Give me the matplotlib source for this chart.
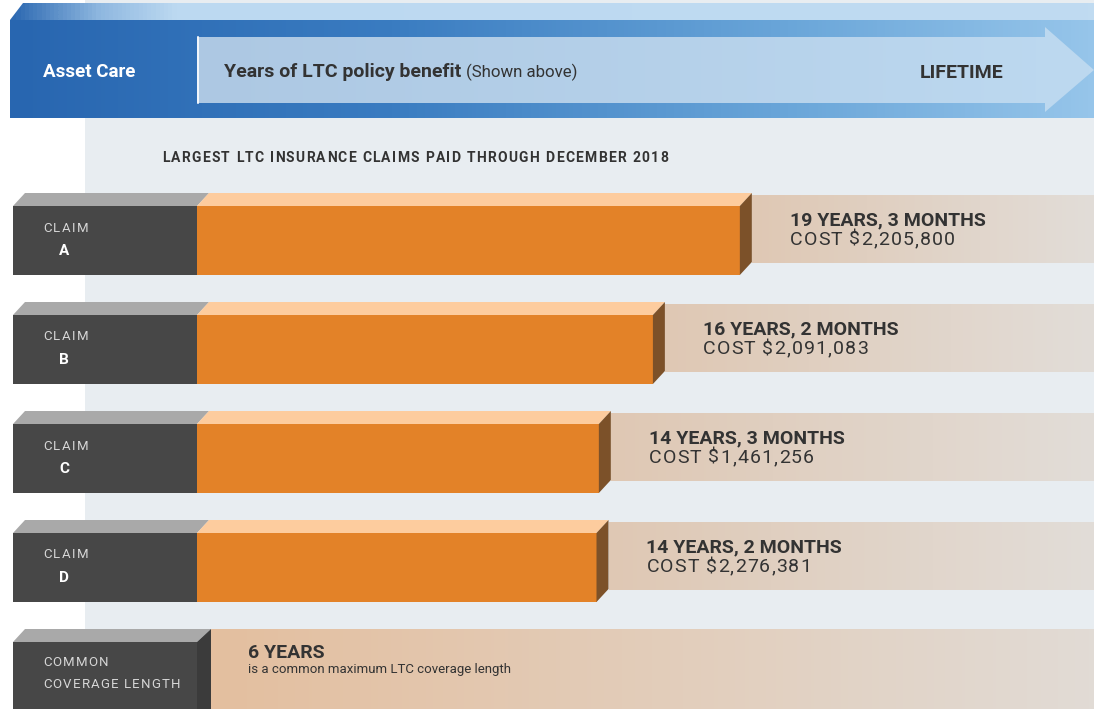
import matplotlib
matplotlib.use('Agg')
import matplotlib.pyplot as plt
import numpy as np
from matplotlib.patches import Polygon, Rectangle
from matplotlib.colors import LinearSegmentedColormap

claims = ['A', 'B', 'C', 'D']
claim_years = [19, 16, 14, 14]
claim_months = [3, 2, 3, 2]
claim_costs = ['$2,205,800', '$2,091,083', '$1,461,256', '$2,276,381']
common_years = 6

title = 'LARGEST LTC INSURANCE CLAIMS PAID THROUGH DECEMBER 2018'

plt.rcParams['font.family'] = ['Roboto', 'DejaVu Sans']

W, H = 1094, 709
fig = plt.figure(figsize=(W / 100, H / 100), dpi=100)
ax = fig.add_axes([0, 0, 1, 1])
ax.set_axis_off()
ax.set_xlim(0, W)
ax.set_ylim(H, 0)
renderer = fig.canvas.get_renderer()

DARK = '#333333'
LABEL = '#d6d6d6'


def hgrad(verts, stops, x0, x1, y0, y1, z):
    # horizontal gradient clipped to a polygon
    cmap = LinearSegmentedColormap.from_list('g', stops)
    img = np.linspace(0, 1, 256).reshape(1, -1)
    im = ax.imshow(img, cmap=cmap, extent=(x0, x1, y1, y0), aspect='auto',
                   zorder=z, interpolation='bilinear')
    p = Polygon(verts, closed=True, facecolor='none', edgecolor='none', zorder=z)
    ax.add_patch(p)
    im.set_clip_path(p)


def poly(verts, color, z):
    ax.add_patch(Polygon(verts, closed=True, facecolor=color, edgecolor='none', zorder=z))


def spaced(x, y, s, sp, **kw):
    # letter-spaced text, one glyph at a time (1 data unit == 1 pixel here)
    for ch in s:
        if ch == ' ':
            x += kw.get('fontsize', 10) * 100 / 72 * 0.25 + sp
            continue
        t = ax.text(x, y, ch, ha='left', va='center', zorder=5, **kw)
        x += t.get_window_extent(renderer=renderer).width + sp
    return x


# background panel
ax.add_patch(Rectangle((85, 0), W - 85, H, facecolor='#e8edf1', edgecolor='none', zorder=0))

# ---- banner ----
hgrad([(10, 20), (23, 3), (W, 3), (W, 20)],
      [(0, '#2e6ab2'), (0.08, '#8fb8e0'), (0.15, '#bcd9f1'), (1, '#c0dbf1')],
      10, W, 3, 20, 2)
hgrad([(10, 20), (W, 20), (W, 118), (10, 118)],
      [(0, '#2866b0'), (0.35, '#3a7cc1'), (0.72, '#6aa6d9'), (1, '#96c5ea')],
      10, W, 20, 118, 2)
hgrad([(197, 37), (1045, 37), (1045, 27), (1094, 70), (1045, 112), (1045, 103), (197, 103)],
      [(0, '#adc8e3'), (1, '#bdd9f0')], 197, 1094, 27, 112, 3)
ax.plot([197.5, 197.5], [37, 103], color='white', lw=1.2, zorder=4)

ax.text(43, 72, 'Asset Care', color='white', fontsize=13.5, fontweight='bold',
        va='center', ha='left', zorder=5)
t1 = ax.text(224, 72, 'Years of LTC policy benefit', color=DARK, fontsize=14,
             fontweight='bold', va='center', ha='left', zorder=5)
bb = t1.get_window_extent(renderer=renderer)
ax.text(bb.x1 + 5, 72, '(Shown above)', color=DARK, fontsize=12.2, va='center',
        ha='left', zorder=5)
ax.text(920, 73, 'LIFETIME', color=DARK, fontsize=14, fontweight='bold',
        va='center', ha='left', zorder=5)

spaced(162, 158, title, 1.3, color=DARK, fontsize=10, fontweight='bold')

# ---- claim rows ----
px_per_year = 28.2
row0, pitch, fh = 206, 109, 69
dx, dy = 12, 13
bar_left = 197

for i, c in enumerate(claims):
    top = row0 + i * pitch
    yrs = claim_years[i] + claim_months[i] / 12
    end = bar_left + yrs * px_per_year
    # backing strip
    hgrad([(end + dx, top - 11), (W, top - 11), (W, top + 57), (end + dx, top + 57)],
          [(0, '#dfc8b4'), (1, '#e2ddd8')], end + dx, W, top - 11, top + 57, 1)
    # label block
    ax.add_patch(Rectangle((13, top), bar_left - 13, fh, facecolor='#474747',
                           edgecolor='none', zorder=3))
    poly([(13, top), (13 + dx, top - dy), (bar_left + dx, top - dy), (bar_left, top)], '#a9a9a9', 3)
    # bar
    ax.barh(top + fh / 2, yrs * px_per_year, left=bar_left, height=fh,
            color='#e38228', edgecolor='none', zorder=3)
    poly([(bar_left, top), (bar_left + dx, top - dy), (end + dx, top - dy), (end, top)], '#fdcc9e', 3)
    poly([(end, top), (end + dx, top - dy), (end + dx, top + fh - dy), (end, top + fh)], '#7c5129', 3)

    spaced(43, top + 22, 'CLAIM', 1.5, color=LABEL, fontsize=9.5)
    ax.text(64, top + 45, c, color='white', fontsize=11, fontweight='bold',
            va='center', ha='center', zorder=5)
    tx = end + dx + 38
    ax.text(tx, top + 14, f'{claim_years[i]} YEARS, {claim_months[i]} MONTHS',
            color=DARK, fontsize=14, fontweight='bold', va='center', ha='left', zorder=5)
    spaced(tx, top + 34, f'COST {claim_costs[i]}', 1.1, color=DARK, fontsize=14)

# ---- common coverage row ----
top = row0 + len(claims) * pitch
hgrad([(bar_left + dx + 2, top - dy), (W, top - dy), (W, H), (bar_left + dx + 2, H)],
      [(0, '#e4bf9f'), (1, '#e1dbd5')], bar_left + dx + 2, W, top - dy, H, 1)
ax.add_patch(Rectangle((13, top), bar_left - 13, H - top, facecolor='#474747',
                       edgecolor='none', zorder=3))
poly([(13, top), (13 + dx, top - dy), (bar_left + dx + 2, top - dy), (bar_left, top)], '#a9a9a9', 3)
poly([(bar_left, top), (bar_left + dx + 2, top - dy), (bar_left + dx + 2, H), (bar_left, H)], '#3b3b3b', 3)
spaced(43, top + 21, 'COMMON', 1.2, color=LABEL, fontsize=9.5)
spaced(43, top + 42, 'COVERAGE LENGTH', 1.2, color=LABEL, fontsize=9.5)
ax.text(248, top + 11, f'{common_years} YEARS', color=DARK, fontsize=14, fontweight='bold',
        va='center', ha='left', zorder=5)
ax.text(248, top + 27, 'is a common maximum LTC coverage length', color=DARK, fontsize=9.5,
        va='center', ha='left', zorder=5)

ax.set_xlim(0, W)
ax.set_ylim(H, 0)

fig.savefig('out.png', dpi=100, facecolor='white')
